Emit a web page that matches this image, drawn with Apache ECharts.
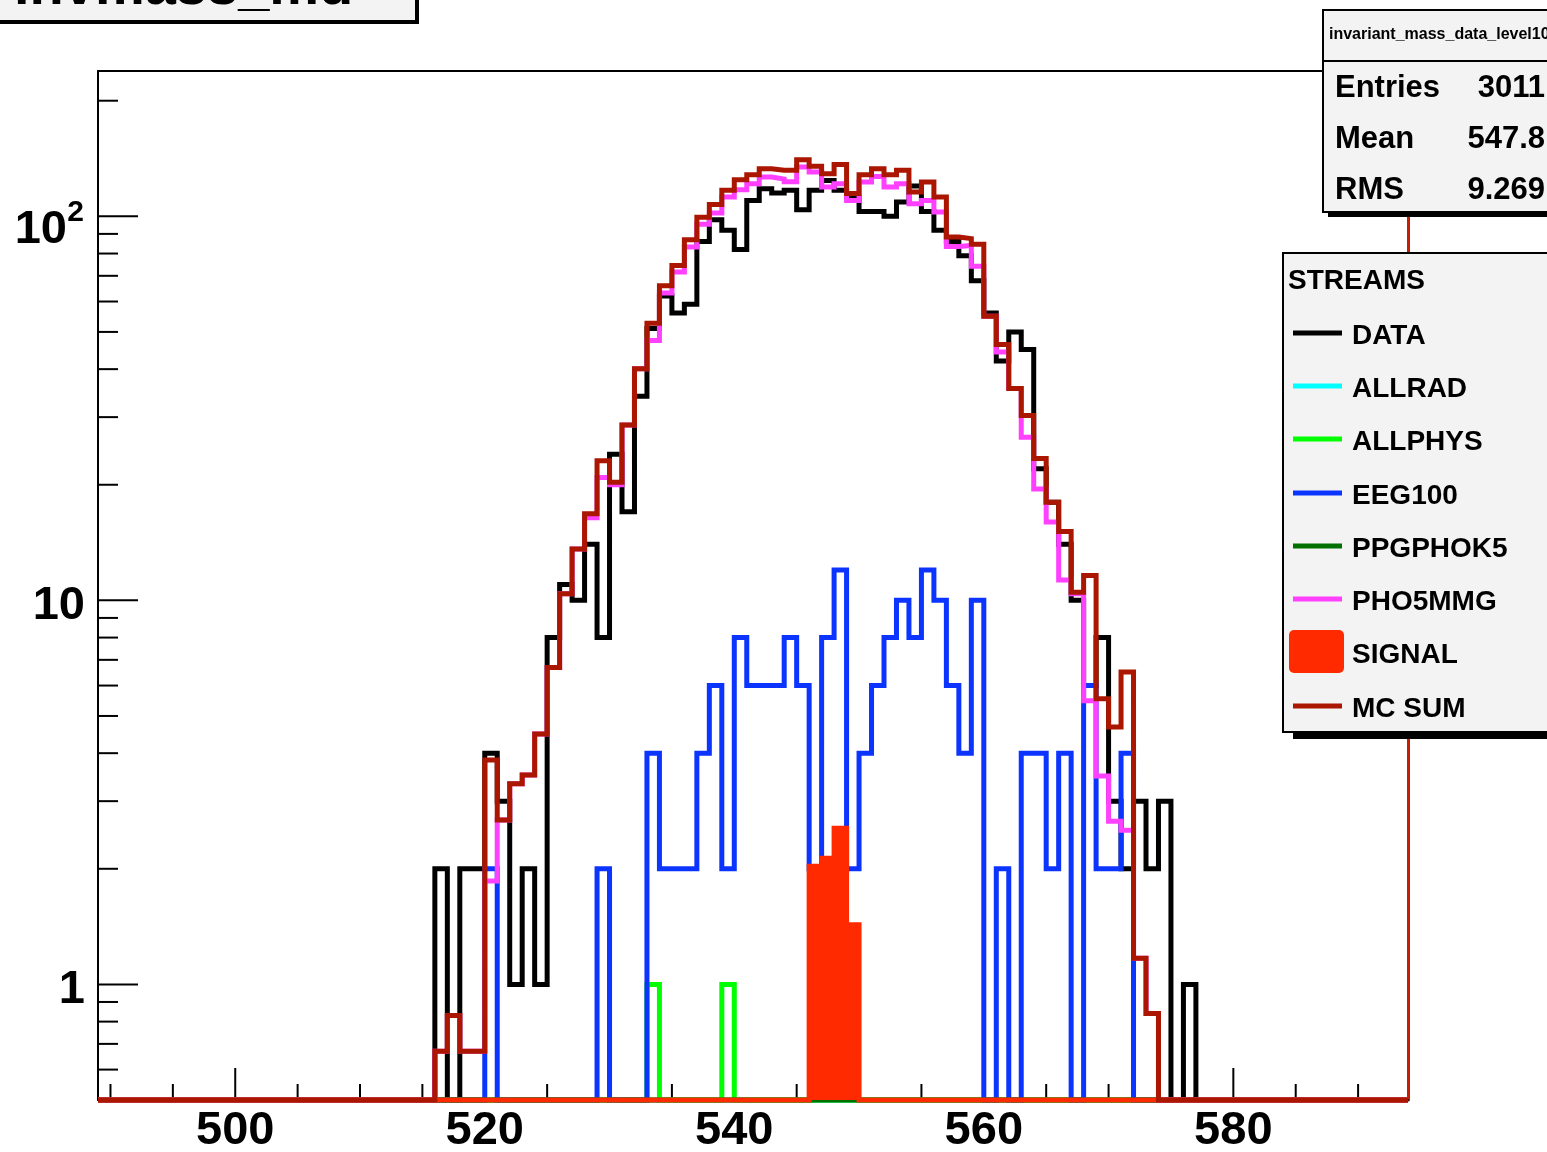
<!DOCTYPE html>
<html><head><meta charset="utf-8">
<script src="https://cdn.jsdelivr.net/npm/echarts@6/dist/echarts.min.js"></script>
<style>html,body{margin:0;padding:0;background:#fff;}#c{width:1547px;height:1152px;}</style>
</head><body><div id="c"></div>
<script>
// ---- axis ranges ----
const X_MIN = 489, X_MAX = 594;        // bin edges (unit-width bins)
const Y_MIN = 0.5, Y_MAX = 239;        // log axis range
const FIRST_BIN = 516;                 // low edge of first bin in the arrays below (bins 516..577)

// ---- series values, one entry per bin 516..577 ----
const dataCounts = [2,0,2,2,4,3,1,2,1,8, 11,10,14,8,24,17,34,51,62,56, 59,86,98,92,82,110,118,115,117,104,
                    117,124,117,112,103,103,100,109,120,103, 92,86,79,68,56,42,50,45,22,18, 14,10,6,8,3,2,3,2,3,0, 1,0];
const allrad   = [0,0,0,0,0,0,0,0,0,0, 0,0,0,0,0,0,0,0,0,0, 0,0,0,0,0,0,0,0,0,0,
                  0,0,0,0,0,0,0,0,0,0, 0,0,0,0,0,0,0,0,0,0, 0,0,0,0,0,0,0,0,0,0, 0,0];
const allphys  = [0,0,0,0,0,0,0,0,0,0, 0,0,0,0,0,0,0,1,0,0, 0,0,0,1,0,0,0,0,0,0,
                  0,0,0,0,0,0,0,0,0,0, 0,0,0,0,0,0,0,0,0,0, 0,0,0,0,0,0,0,0,0,0, 0,0];
const eeg100   = [0,0,0,0,2,0,0,0,0,0, 0,0,0,2,0,0,0,4,2,2, 2,4,6,2,8,6,6,6,8,6,
                  2,8,12,2,4,6,8,10,8,12, 10,6,4,10,0,2,0,4,4,2, 4,0,6,2,2,4,0,0,0,0, 0,0];
const ppgphok5 = [0,0,0,0,0,0,0,0,0,0, 0,0,0,0,0,0,0,0,0,0, 0,0,0,0,0,0,0,0,0,0,
                  0.3,0.25,0.3,0.2,0,0,0,0,0,0, 0,0,0,0,0,0,0,0,0,0, 0,0,0,0,0,0,0,0,0,0, 0,0];
const pho5mmg  = [0.67,0.83,0.67,0.67,1.86,2.68,3.33,3.51,4.49,6.69, 10.4,13.6,16.4,20.9,20.0,28.6,40.1,47.5,63.1,71.6,
                  83.2,95.3,102,112.2,117.3,121.6,126.5,125,123,134.4, 130.4,119.2,121.6,110,122.8,127,119.2,121.6,107.9,110,
                  102.6,83.5,84,74.1,54.9,44.3,35.6,26.6,19.5,16, 11.3,10.4,5.48,3.49,2.66,2.52,1.17,0.84,0,0, 0,0];
const signal   = [0,0,0,0,0,0,0,0,0,0, 0,0,0,0,0,0,0,0,0,0, 0,0,0,0,0,0,0,0,0,0,
                  2.03,2.13,2.55,1.43,0,0,0,0,0,0, 0,0,0,0,0,0,0,0,0,0, 0,0,0,0,0,0,0,0,0,0, 0,0];
const mcSum    = [0.67,0.83,0.67,0.67,3.84,2.68,3.33,3.51,4.49,6.69, 10.4,13.6,16.8,23.1,20.3,28.6,40.1,52.7,65.9,74.5,
                  86.9,99.5,107.4,116.9,124.6,128.4,133,131.8,131.8,140.4, 135,129,136.5,114.6,128.4,133,128.4,131.8,115.7,122.8,
                  112.2,88.3,87.5,84.6,54.9,46.4,35.6,30.3,23.4,18.0, 15.1,10.5,11.6,5.54,4.68,6.51,1.17,0.84,0,0, 0,0];

// ---- ticks and labels ----
const xTicks = [490,495,500,505,510,515,520,525,530,535,540,545,550,555,560,565,570,575,580,585,590];
const xMajor = [500,520,540,560,580];
const xTickLabels = ['500','520','540','560','580'];
const yTicks = [0.6,0.7,0.8,0.9,1,2,3,4,5,6,7,8,9,10,20,30,40,50,60,70,80,90,100,200];
const yMajor = [1,10,100];
const yLabelBase = ['1','10','10'];
const yLabelSup  = ['','','2'];

// ---- stats & legend text ----
const histTitle = 'invmass_md';
const statsName = 'invariant_mass_data_level10';
const statsKeys = ['Entries','Mean','RMS'];
const statsVals = ['3011','547.8','9.269'];
const legendTitle = 'STREAMS';

const FONT = '"Liberation Sans", Arial, Helvetica, sans-serif';
const SER = [
  {name:'DATA',     vals:dataCounts, color:'#000000'},
  {name:'ALLRAD',   vals:allrad,     color:'#00ffff'},
  {name:'ALLPHYS',  vals:allphys,    color:'#00ff00'},
  {name:'EEG100',   vals:eeg100,     color:'#0c34ff'},
  {name:'PPGPHOK5', vals:ppgphok5,   color:'#007000'},
  {name:'PHO5MMG',  vals:pho5mmg,    color:'#ff40ff'},
  {name:'SIGNAL',   vals:signal,     color:'#ff2a00', fill:true},
  {name:'MC SUM',   vals:mcSum,      color:'#aa1600'}
];

function stepData(vals){
  const pts = [];
  for (let b = X_MIN; b < X_MAX; b++){
    const i = b - FIRST_BIN;
    const v = (i >= 0 && i < vals.length) ? vals[i] : 0;
    pts.push([b, Math.max(v, Y_MIN)]);
  }
  pts.push([X_MAX, pts[pts.length-1][1]]);
  return pts;
}

const series = [];
// ticks
series.push({
  type:'custom', name:'yticks', z:1, silent:true, clip:false,
  data: yTicks.map(v => [X_MIN, v]),
  renderItem: (p, api) => {
    const v = api.value(1); const c = api.coord([X_MIN, v]);
    const len = yMajor.indexOf(v) >= 0 ? 40 : 20;
    return {type:'line', shape:{x1:c[0], y1:c[1], x2:c[0]+len, y2:c[1]}, style:{stroke:'#000', lineWidth:2}};
  }
});
series.push({
  type:'custom', name:'xticks', z:1, silent:true, clip:false,
  data: xTicks.map(v => [v, Y_MIN]),
  renderItem: (p, api) => {
    const v = api.value(0); const c = api.coord([v, Y_MIN]);
    const len = xMajor.indexOf(v) >= 0 ? 32 : 16;
    return {type:'line', shape:{x1:c[0], y1:c[1], x2:c[0], y2:c[1]-len}, style:{stroke:'#000', lineWidth:2}};
  }
});
series.push({
  type:'custom', name:'xlabels', z:1, silent:true, clip:false,
  data: xMajor.map(v => [v, Y_MIN]),
  renderItem: (p, api) => {
    const c = api.coord([api.value(0), Y_MIN]);
    return {type:'text', x:c[0], y:c[1]+31, style:{text:xTickLabels[p.dataIndex], fill:'#000',
      font:'bold 47px '+FONT, align:'center', verticalAlign:'middle'}};
  }
});
series.push({
  type:'custom', name:'ylabels', z:1, silent:true, clip:false,
  data: yMajor.map(v => [X_MIN, v]),
  renderItem: (p, api) => {
    const c = api.coord([X_MIN, api.value(1)]);
    const i = p.dataIndex;
    if (!yLabelSup[i]) {
      return {type:'text', x:c[0]-13, y:c[1]+6, style:{text:yLabelBase[i], fill:'#000',
        font:'bold 47px '+FONT, align:'right', verticalAlign:'middle'}};
    }
    return {type:'group', children:[
      {type:'text', x:c[0]-31, y:c[1]+14, style:{text:yLabelBase[i], fill:'#000', font:'bold 47px '+FONT, align:'right', verticalAlign:'middle'}},
      {type:'text', x:c[0]-14, y:c[1]-4, style:{text:yLabelSup[i], fill:'#000', font:'bold 30px '+FONT, align:'right', verticalAlign:'middle'}}
    ]};
  }
});
// histograms
SER.forEach((s, k) => {
  const o = {
    type:'line', name:s.name, data:stepData(s.vals), step:'end', showSymbol:false, symbol:'none',
    clip:false, silent:true, z:2+k*0.01, zlevel:0,
    lineStyle:{color:s.color, width:5, join:'miter', cap:'butt'},
    itemStyle:{color:s.color}
  };
  if (s.fill) o.areaStyle = {color:s.color, opacity:1, origin:'start'};
  series.push(o);
});

// ---- boxes (title, stats, legend) ----
function box(x, y, w, h, dx, dy){
  return [
    {type:'rect', shape:{x:x+dx, y:y+dy, width:w, height:h}, style:{fill:'#000'}, z:10},
    {type:'rect', shape:{x:x, y:y, width:w, height:h}, style:{fill:'#f3f3f3', stroke:'#000', lineWidth:2}, z:11}
  ];
}
const g = [];
g.push(...box(-10, -60, 426, 81, 3, 3));
g.push({type:'text', x:14, y:-11, z:12, style:{text:histTitle, fill:'#000', font:'bold 56px '+FONT, align:'left', verticalAlign:'middle'}});
g.push(...box(1323, 10, 300, 202, 5, 5));
g.push({type:'line', shape:{x1:1323, y1:61, x2:1547, y2:61}, style:{stroke:'#000', lineWidth:2}, z:12});
g.push({type:'text', x:1329, y:35, z:12, style:{text:statsName, fill:'#000', font:'bold 16px '+FONT, align:'left', verticalAlign:'middle'}});
const statsY = [88, 139, 190];
statsKeys.forEach((k, i) => {
  g.push({type:'text', x:1335, y:statsY[i], z:12, style:{text:k, fill:'#000', font:'bold 31px '+FONT, align:'left', verticalAlign:'middle'}});
  g.push({type:'text', x:1545, y:statsY[i], z:12, style:{text:statsVals[i], fill:'#000', font:'bold 31px '+FONT, align:'right', verticalAlign:'middle'}});
});
g.push(...box(1283, 253, 300, 479, 10, 7));
g.push({type:'text', x:1288, y:281, z:12, style:{text:legendTitle, fill:'#000', font:'bold 28px '+FONT, align:'left', verticalAlign:'middle'}});
const legY = [333, 386, 439, 493, 546, 599, 652, 706];
SER.forEach((s, i) => {
  if (s.fill) {
    g.push({type:'rect', shape:{x:1289, y:legY[i]-22, width:55, height:43, r:5}, style:{fill:s.color}, z:12});
  } else {
    g.push({type:'line', shape:{x1:1293, y1:legY[i], x2:1342, y2:legY[i]}, style:{stroke:s.color, lineWidth:5}, z:12});
  }
  g.push({type:'text', x:1352, y:legY[i]+3, z:12, style:{text:s.name, fill:'#000', font:'bold 28px '+FONT, align:'left', verticalAlign:'middle'}});
});

const chart = echarts.init(document.getElementById('c'), null, {renderer:'canvas'});
const hidden = {axisTick:{show:false}, axisLabel:{show:false}, splitLine:{show:false}};
chart.setOption({
  animation:false,
  backgroundColor:'#ffffff',
  grid:{left:98, top:71, right:139, bottom:52, containLabel:false},
  xAxis:[
    Object.assign({type:'value', min:X_MIN, max:X_MAX, position:'bottom',
      axisLine:{show:true, onZero:false, lineStyle:{color:'#000', width:2}}}, hidden),
    Object.assign({type:'value', min:X_MIN, max:X_MAX, position:'top',
      axisLine:{show:true, onZero:false, lineStyle:{color:'#000', width:2}}}, hidden)
  ],
  yAxis:[
    Object.assign({type:'log', logBase:10, min:Y_MIN, max:Y_MAX, position:'left',
      axisLine:{show:true, onZero:false, lineStyle:{color:'#000', width:2}}}, hidden),
    Object.assign({type:'log', logBase:10, min:Y_MIN, max:Y_MAX, position:'right',
      axisLine:{show:true, onZero:false, lineStyle:{color:'#c81e00', width:3}}}, hidden)
  ],
  series: series,
  graphic: g
});
</script></body></html>
